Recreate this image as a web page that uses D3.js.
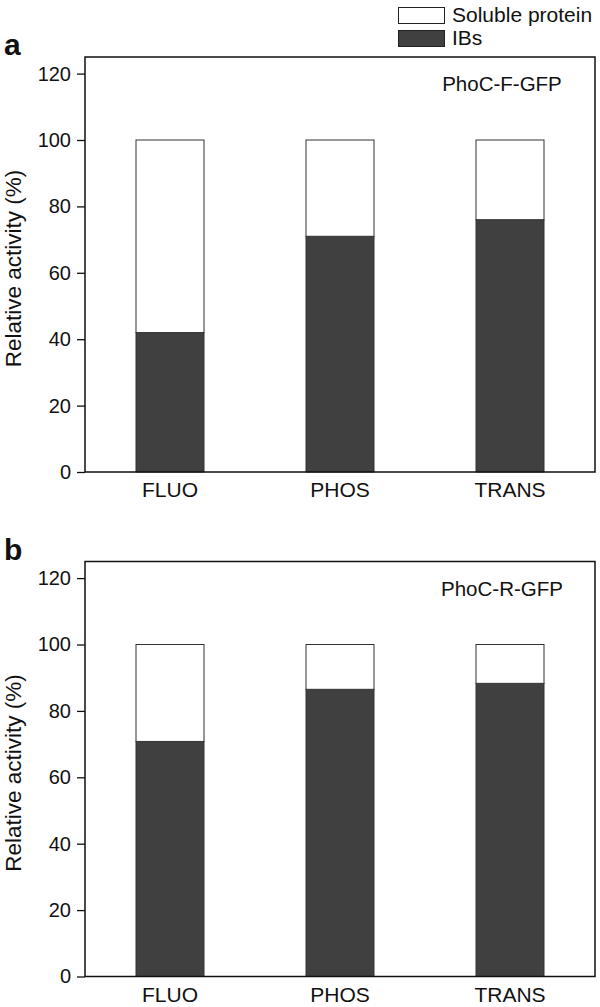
<!DOCTYPE html>
<html>
<head>
<meta charset="utf-8">
<script src="https://cdn.jsdelivr.net/npm/d3@7"></script>
<style>
  body { margin: 0; background: #fff; }
  svg { display: block; font-family: "Liberation Sans", Arial, sans-serif; }
</style>
</head>
<body>
<div id="chart"></div>
<script>
// data
const categories = ["FLUO", "PHOS", "TRANS"];
const ibsA = [42, 71, 76];
const solubleA = [58, 29, 24];
const ibsB = [70.8, 86.5, 88.3];
const solubleB = [29.2, 13.5, 11.7];
const yTicks = [0, 20, 40, 60, 80, 100, 120];
const panelLetters = ["a", "b"];
const panelTitles = ["PhoC-F-GFP", "PhoC-R-GFP"];
const seriesNames = ["Soluble protein", "IBs"];

const width = 600, height = 1007;
const dark = "#404040";

const svg = d3.select("#chart").append("svg")
  .attr("width", width)
  .attr("height", height);

// legend at top right
const legendItems = [
  { name: seriesNames[0], fill: "#fff", y: 7 },
  { name: seriesNames[1], fill: dark, y: 30 }
];
const legend = svg.append("g");
legendItems.forEach(d => {
  legend.append("rect")
    .attr("x", 398.5).attr("y", d.y + 0.5)
    .attr("width", 46).attr("height", 16)
    .attr("fill", d.fill)
    .attr("stroke", "#222").attr("stroke-width", 1);
  legend.append("text")
    .attr("x", 452).attr("y", d.y + 14.5)
    .attr("font-size", "21px")
    .attr("fill", "#111")
    .text(d.name);
});

const x = d3.scaleBand()
  .domain(categories)
  .range([85, 595])
  .paddingInner(0.6)
  .paddingOuter(0.3);

function drawPanel(idx, ibs, soluble, top) {
  const bottom = top + 415;
  const y = d3.scaleLinear().domain([0, 125]).range([bottom, top]);

  const rows = categories.map((c, i) => ({ cat: c, ibs: ibs[i], soluble: soluble[i] }));
  const stacked = d3.stack().keys(["ibs", "soluble"])(rows);

  const g = svg.append("g");

  // bars
  stacked.forEach(layer => {
    g.selectAll(null)
      .data(layer)
      .enter()
      .append("rect")
      .attr("x", d => x(d.data.cat))
      .attr("y", d => y(d[1]))
      .attr("width", x.bandwidth())
      .attr("height", d => y(d[0]) - y(d[1]))
      .attr("fill", layer.key === "ibs" ? dark : "#fff")
      .attr("stroke", "#333")
      .attr("stroke-width", 1);
  });

  // frame
  g.append("rect")
    .attr("x", 85).attr("y", top)
    .attr("width", 510).attr("height", bottom - top)
    .attr("fill", "none")
    .attr("stroke", "#111")
    .attr("stroke-width", 1.5);

  // y axis
  const yAxis = g.append("g")
    .attr("transform", "translate(85,0)")
    .call(d3.axisLeft(y).tickValues(yTicks).tickSize(8).tickPadding(6).tickSizeOuter(0));
  yAxis.select(".domain").remove();
  yAxis.selectAll("line").attr("stroke", "#111").attr("stroke-width", 1.3);
  yAxis.selectAll("text")
    .attr("font-size", "20px")
    .attr("fill", "#111")
    .attr("font-family", "Liberation Sans, Arial, sans-serif");

  // x labels
  g.selectAll(null)
    .data(categories)
    .enter()
    .append("text")
    .attr("x", d => x(d) + x.bandwidth() / 2)
    .attr("y", bottom + 25)
    .attr("text-anchor", "middle")
    .attr("font-size", "21px")
    .attr("fill", "#111")
    .text(d => d);

  // y label
  g.append("text")
    .attr("transform", `translate(13,${(top + bottom) / 2 + 4}) rotate(-90)`)
    .attr("text-anchor", "middle")
    .attr("dominant-baseline", "central")
    .attr("font-size", "22.5px")
    .attr("fill", "#111")
    .text("Relative activity (%)");

  // panel letter
  g.append("text")
    .attr("x", 4).attr("y", top - 2)
    .attr("font-size", "30px")
    .attr("font-weight", "bold")
    .attr("fill", "#111")
    .text(panelLetters[idx]);

  // construct name
  g.append("text")
    .attr("x", 502).attr("y", top + 34)
    .attr("text-anchor", "middle")
    .attr("font-size", "20.5px")
    .attr("fill", "#111")
    .text(panelTitles[idx]);
}

drawPanel(0, ibsA, solubleA, 57);
drawPanel(1, ibsB, solubleB, 561.5);
</script>
</body>
</html>
